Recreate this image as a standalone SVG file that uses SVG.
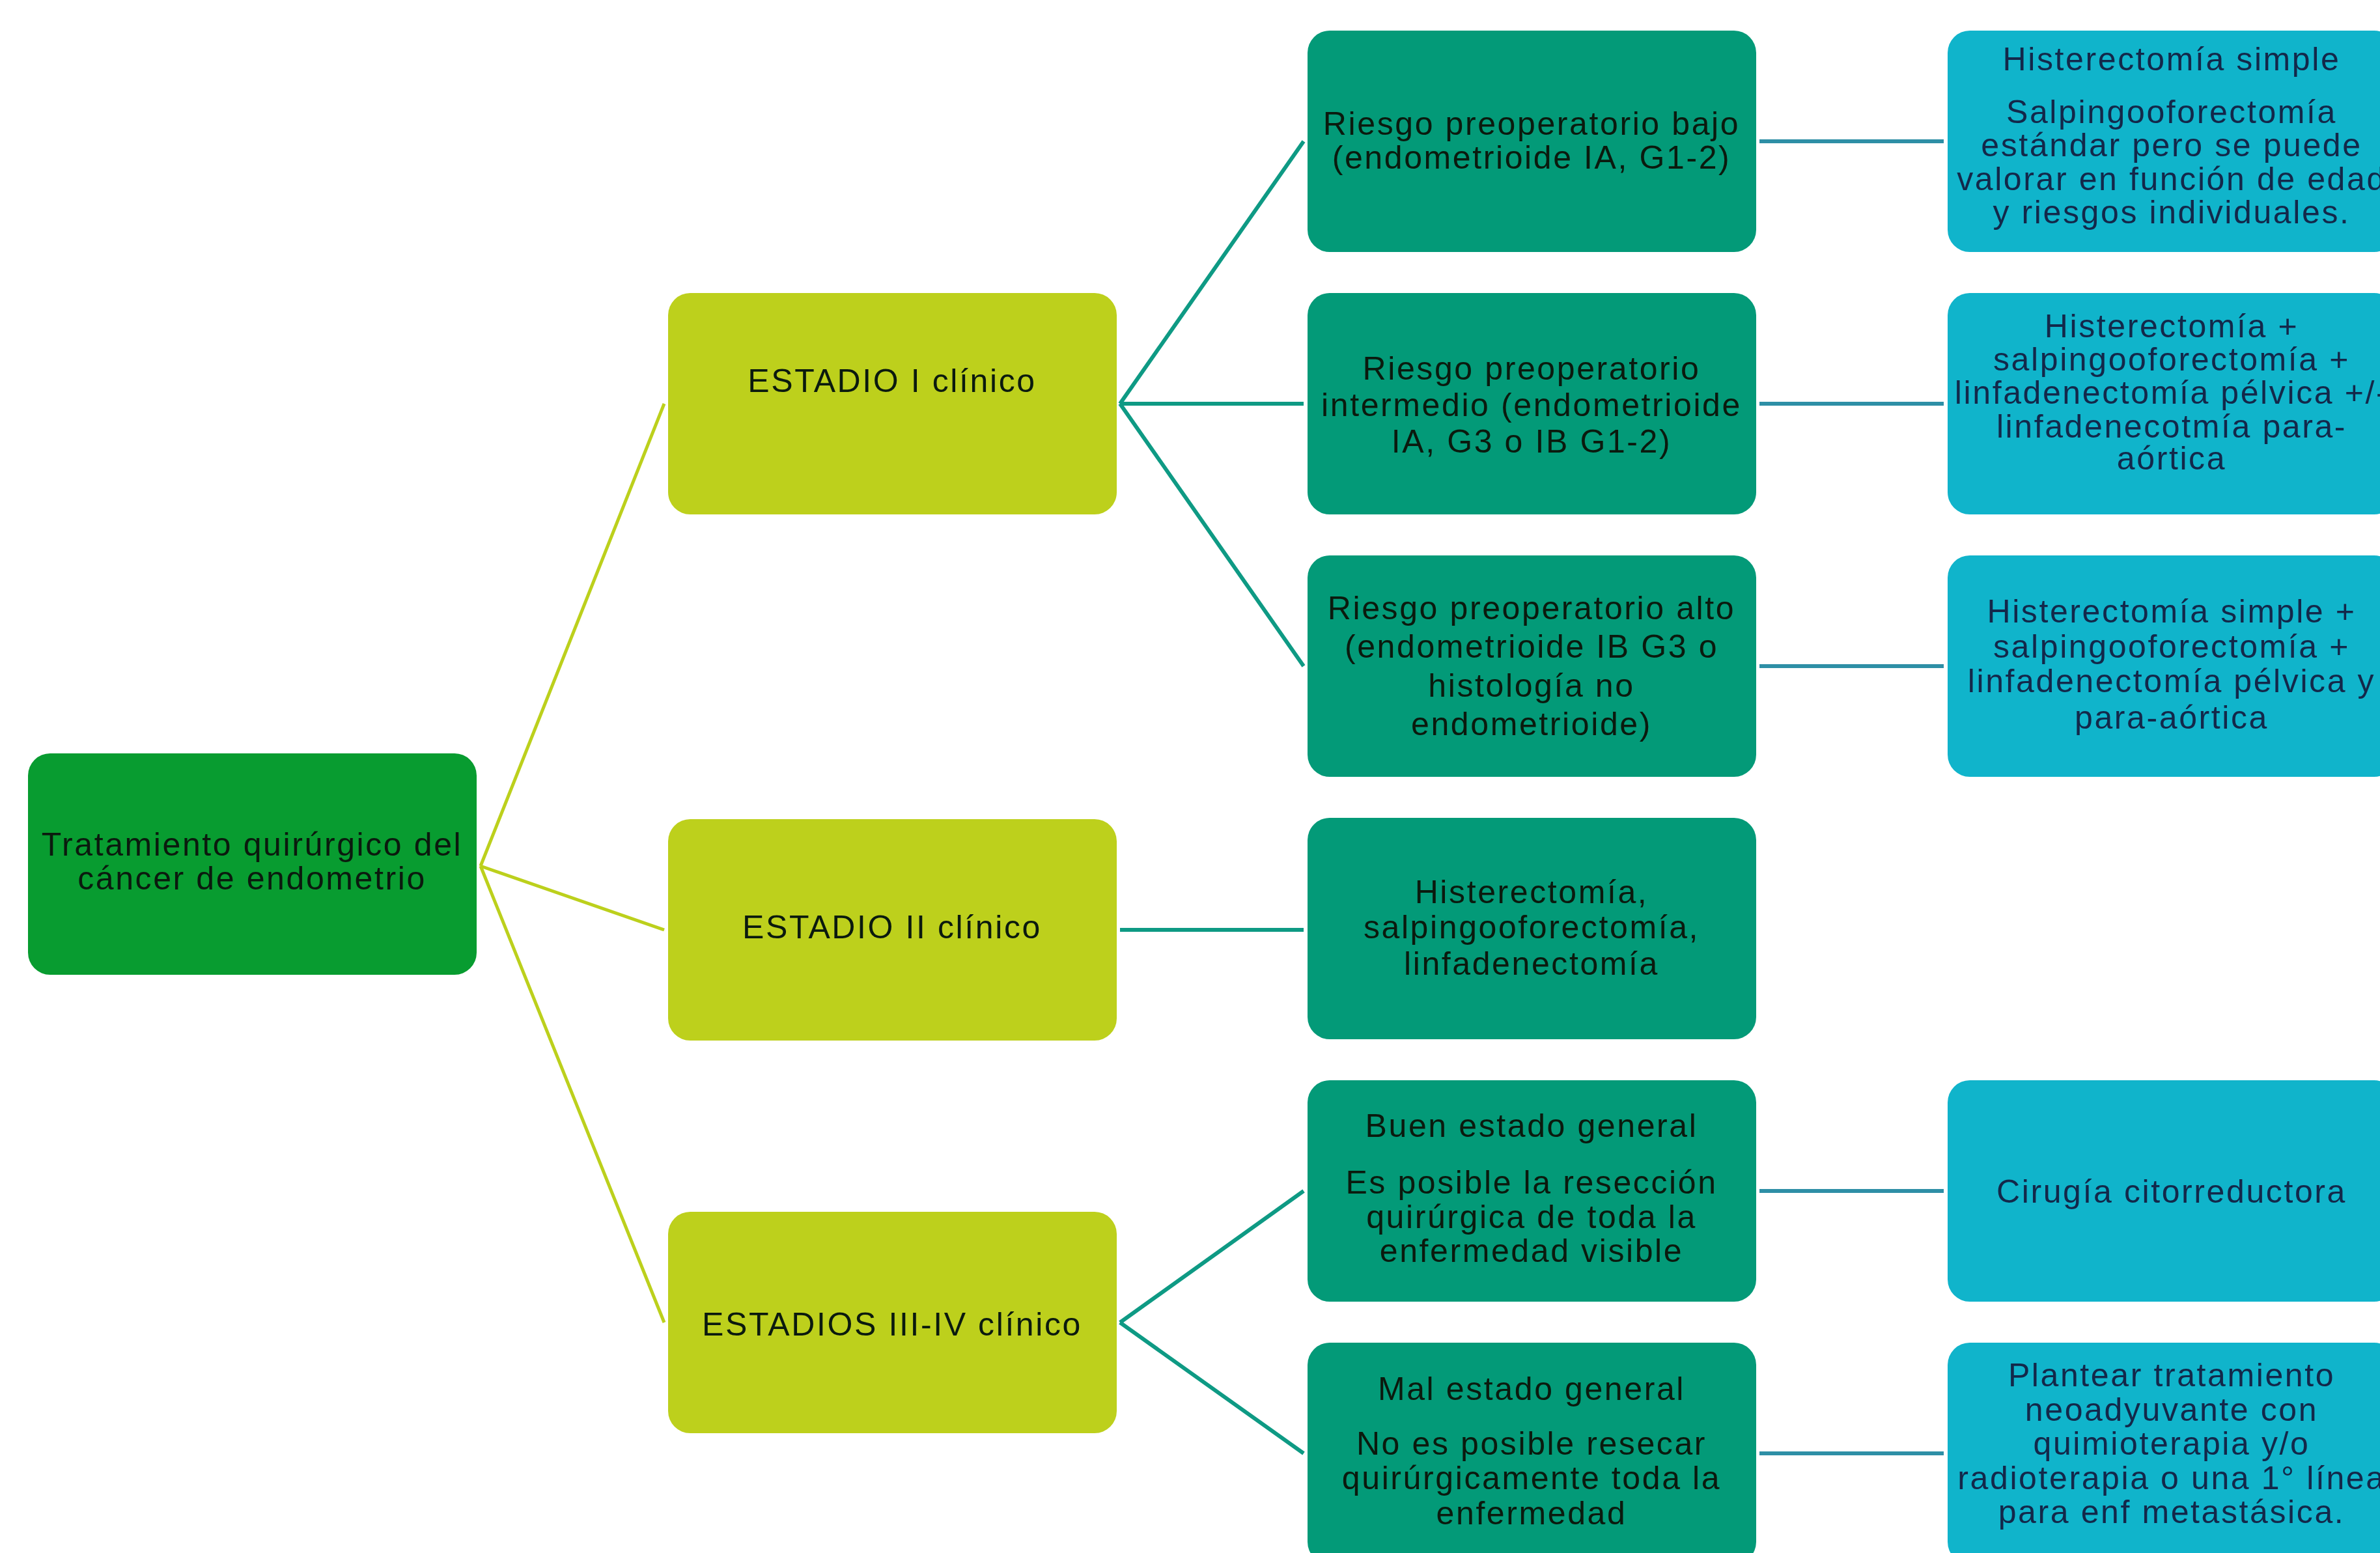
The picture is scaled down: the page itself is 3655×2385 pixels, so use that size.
<svg xmlns="http://www.w3.org/2000/svg" width="3655" height="2385" viewBox="0 0 3655 2385">
<style>
text{font-family:"Liberation Sans",Arial,sans-serif;font-size:50px;letter-spacing:2.6px;text-anchor:middle}
.root{fill:#089C30}
.l1{fill:#BDD01C}
.l2{fill:#039A78}
.l3{fill:#10B4CB}
.tdark{fill:#0b1a0e}
.tnavy{fill:#13284a}
.c0{stroke:#BCD01C;stroke-width:5;fill:none}
.c1{stroke:#0E9A84;stroke-width:6;fill:none}
.c2{stroke:#2E8FA6;stroke-width:6;fill:none}
</style>
<rect width="3655" height="2385" fill="#FFFFFF"/>
<g id="connectors">
<line class="c0" x1="738" y1="1330" x2="1020" y2="620"/>
<line class="c0" x1="738" y1="1330" x2="1020" y2="1428"/>
<line class="c0" x1="738" y1="1330" x2="1020" y2="2031"/>
<line class="c1" x1="1720" y1="620" x2="2002" y2="217"/>
<line class="c1" x1="1720" y1="620" x2="2002" y2="620"/>
<line class="c1" x1="1720" y1="620" x2="2002" y2="1023"/>
<line class="c1" x1="1720" y1="1428" x2="2002" y2="1428"/>
<line class="c1" x1="1720" y1="2031" x2="2002" y2="1829"/>
<line class="c1" x1="1720" y1="2031" x2="2002" y2="2232"/>
<line class="c2" x1="2702" y1="217" x2="2985" y2="217"/>
<line class="c2" x1="2702" y1="620" x2="2985" y2="620"/>
<line class="c2" x1="2702" y1="1023" x2="2985" y2="1023"/>
<line class="c2" x1="2702" y1="1829" x2="2985" y2="1829"/>
<line class="c2" x1="2702" y1="2232" x2="2985" y2="2232"/>
</g>
<g id="root">
<rect class="root" x="43" y="1157" width="689" height="340" rx="34"/>
<text class="tdark" x="387" y="1314">Tratamiento quirúrgico del</text>
<text class="tdark" x="387" y="1366">cáncer de endometrio</text>
</g>
<g id="estadio1">
<rect class="l1" x="1026" y="450" width="689" height="340" rx="34"/>
<text class="tdark" x="1370" y="602">ESTADIO I  clínico</text>
</g>
<g id="estadio2">
<rect class="l1" x="1026" y="1258" width="689" height="340" rx="34"/>
<text class="tdark" x="1370" y="1441">ESTADIO II  clínico</text>
</g>
<g id="estadio34">
<rect class="l1" x="1026" y="1861" width="689" height="340" rx="34"/>
<text class="tdark" x="1370" y="2051">ESTADIOS III-IV  clínico</text>
</g>
<g id="riesgo-bajo">
<rect class="l2" x="2008" y="47" width="689" height="340" rx="34"/>
<text class="tdark" x="2352" y="207">Riesgo preoperatorio bajo</text>
<text class="tdark" x="2352" y="259">(endometrioide IA, G1-2)</text>
</g>
<g id="riesgo-intermedio">
<rect class="l2" x="2008" y="450" width="689" height="340" rx="34"/>
<text class="tdark" x="2352" y="583">Riesgo preoperatorio</text>
<text class="tdark" x="2352" y="639">intermedio (endometrioide</text>
<text class="tdark" x="2352" y="695">IA, G3 o IB G1-2)</text>
</g>
<g id="riesgo-alto">
<rect class="l2" x="2008" y="853" width="689" height="340" rx="34"/>
<text class="tdark" x="2352" y="951">Riesgo preoperatorio alto</text>
<text class="tdark" x="2352" y="1010">(endometrioide IB G3 o</text>
<text class="tdark" x="2352" y="1070">histología no</text>
<text class="tdark" x="2352" y="1129">endometrioide)</text>
</g>
<g id="estadio2-tratamiento">
<rect class="l2" x="2008" y="1256" width="689" height="340" rx="34"/>
<text class="tdark" x="2352" y="1387">Histerectomía,</text>
<text class="tdark" x="2352" y="1441">salpingooforectomía,</text>
<text class="tdark" x="2352" y="1497">linfadenectomía</text>
</g>
<g id="buen-estado">
<rect class="l2" x="2008" y="1659" width="689" height="340" rx="34"/>
<text class="tdark" x="2352" y="1746">Buen estado general</text>
<text class="tdark" x="2352" y="1833">Es posible la resección</text>
<text class="tdark" x="2352" y="1886">quirúrgica de toda la</text>
<text class="tdark" x="2352" y="1938">enfermedad visible</text>
</g>
<g id="mal-estado">
<rect class="l2" x="2008" y="2062" width="689" height="340" rx="34"/>
<text class="tdark" x="2352" y="2150">Mal estado general</text>
<text class="tdark" x="2352" y="2234">No es posible resecar</text>
<text class="tdark" x="2352" y="2287">quirúrgicamente toda la</text>
<text class="tdark" x="2352" y="2341">enfermedad</text>
</g>
<g id="tratamiento-bajo">
<rect class="l3" x="2991" y="47" width="689" height="340" rx="34"/>
<text class="tnavy" x="3335" y="108">Histerectomía simple</text>
<text class="tnavy" x="3335" y="189">Salpingooforectomía</text>
<text class="tnavy" x="3335" y="240">estándar pero se puede</text>
<text class="tnavy" x="3335" y="292">valorar en función de edad</text>
<text class="tnavy" x="3335" y="343">y riesgos individuales.</text>
</g>
<g id="tratamiento-intermedio">
<rect class="l3" x="2991" y="450" width="689" height="340" rx="34"/>
<text class="tnavy" x="3335" y="518">Histerectomía +</text>
<text class="tnavy" x="3335" y="569">salpingooforectomía +</text>
<text class="tnavy" x="3335" y="620">linfadenectomía pélvica +/-</text>
<text class="tnavy" x="3335" y="672">linfadenecotmía para-</text>
<text class="tnavy" x="3335" y="721">aórtica</text>
</g>
<g id="tratamiento-alto">
<rect class="l3" x="2991" y="853" width="689" height="340" rx="34"/>
<text class="tnavy" x="3335" y="956">Histerectomía simple +</text>
<text class="tnavy" x="3335" y="1010">salpingooforectomía +</text>
<text class="tnavy" x="3335" y="1063">linfadenectomía pélvica y</text>
<text class="tnavy" x="3335" y="1119">para-aórtica</text>
</g>
<g id="cirugia">
<rect class="l3" x="2991" y="1659" width="689" height="340" rx="34"/>
<text class="tnavy" x="3335" y="1847">Cirugía citorreductora</text>
</g>
<g id="neoadyuvante">
<rect class="l3" x="2991" y="2062" width="689" height="340" rx="34"/>
<text class="tnavy" x="3335" y="2129">Plantear tratamiento</text>
<text class="tnavy" x="3335" y="2182">neoadyuvante con</text>
<text class="tnavy" x="3335" y="2234">quimioterapia y/o</text>
<text class="tnavy" x="3335" y="2287">radioterapia o una 1° línea</text>
<text class="tnavy" x="3335" y="2339">para enf metastásica.</text>
</g>
</svg>
